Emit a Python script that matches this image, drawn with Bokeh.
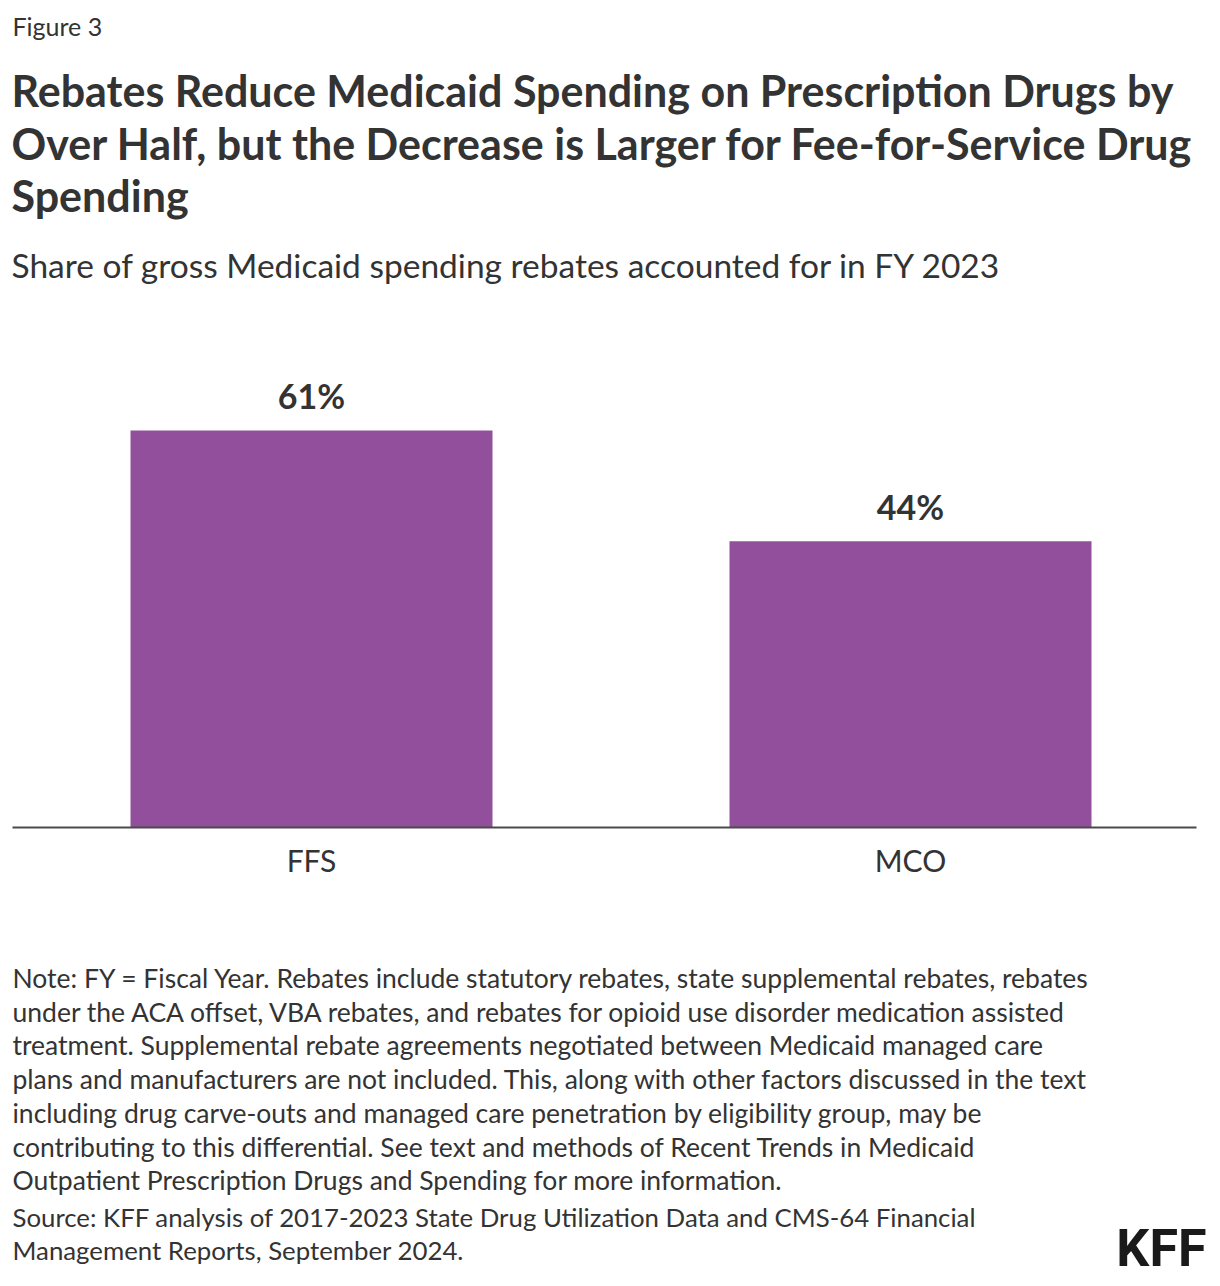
from bokeh.plotting import figure
from bokeh.models import Range1d, ColumnDataSource
from bokeh.core.properties import value
from bokeh.embed import file_html
from bokeh.resources import INLINE

# ---- data ----
categories = ["FFS", "MCO"]
shares = [61, 44]
share_labels = ["61%", "44%"]

figure_label = "Figure 3"
title_lines = [
    "Rebates Reduce Medicaid Spending on Prescription Drugs by",
    "Over Half, but the Decrease is Larger for Fee-for-Service Drug",
    "Spending",
]
subtitle = "Share of gross Medicaid spending rebates accounted for in FY 2023"
note_lines = [
    "Note: FY = Fiscal Year. Rebates include statutory rebates, state supplemental rebates, rebates",
    "under the ACA offset, VBA rebates, and rebates for opioid use disorder medication assisted",
    "treatment. Supplemental rebate agreements negotiated between Medicaid managed care",
    "plans and manufacturers are not included. This, along with other factors discussed in the text",
    "including drug carve-outs and managed care penetration by eligibility group, may be",
    "contributing to this differential. See text and methods of Recent Trends in Medicaid",
    "Outpatient Prescription Drugs and Spending for more information.",
]
source_lines = [
    "Source: KFF analysis of 2017-2023 State Drug Utilization Data and CMS-64 Financial",
    "Management Reports, September 2024.",
]
logo = "KFF"

# ---- layout ----
W, H = 1220, 1286
FONT = "Lato"
TXT = "#333333"
BAR = "#924f9c"

px_per_unit = 6.508
baseline_px = 827  # from top
val_start = -(H - baseline_px) / px_per_unit
val_end = val_start + H / px_per_unit

cat_px = 599.0
cat_start = 0.5 - 311 / cat_px
cat_end = cat_start + W / cat_px

p = figure(width=W, height=H, x_range=Range1d(0, W), y_range=Range1d(H, 0),
           x_axis_type=None, y_axis_type=None, min_border=0,
           toolbar_location=None, output_backend="svg")
p.grid.visible = False
p.outline_line_color = None
p.background_fill_color = "white"
p.border_fill_color = "white"

p.extra_x_ranges = {"cat": Range1d(cat_start, cat_end)}
p.extra_y_ranges = {"val": Range1d(val_start, val_end)}

xpos = [i + 0.5 for i in range(len(categories))]
src = ColumnDataSource(dict(x=xpos, cat=categories, val=shares, lab=share_labels))
p.vbar(x="x", top="val", bottom=0, width=362 / cat_px, source=src,
       x_range_name="cat", y_range_name="val", fill_color=BAR, line_color=None)

# baseline
p.segment(x0=[12], x1=[1196], y0=[0], y1=[0], y_range_name="val",
          line_color="#4a4a4a", line_width=2)

# value labels
p.text(x="x", y="val", text="lab", source=src, x_range_name="cat", y_range_name="val",
       y_offset=-35, text_align="center", text_baseline="middle",
       text_font=value(FONT), text_font_style="bold", text_font_size="34px",
       text_color=TXT)

# category labels
p.text(x="x", y=859, text="cat", source=src, x_range_name="cat",
       text_align="center", text_baseline="middle", text_font=value(FONT),
       text_font_size="30px", text_color=TXT)

def put(lines, x, y0, dy, size, style="normal", color=TXT):
    ys = [y0 + i * dy for i in range(len(lines))]
    p.text(x=[x] * len(lines), y=ys, text=lines, text_align="left",
           text_baseline="middle", text_font=value(FONT), text_font_style=style,
           text_font_size=size, text_color=color)

put([figure_label], 12, 25, 0, "25px")
put(title_lines, 11, 90, 52.5, "43px", "bold")
put([subtitle], 11, 264, 0, "33.5px")
put(note_lines, 12, 977.5, 33.7, "26.5px")
put(source_lines, 12, 1216.5, 33, "25.8px")

p.text(x=[1206], y=[1248], text=[logo], text_align="right", text_baseline="middle",
       text_font=value("Roboto"), text_font_style="bold", text_font_size="52px",
       text_color="#1a1a1a")

open("out.html", "w").write(file_html(p, INLINE))
